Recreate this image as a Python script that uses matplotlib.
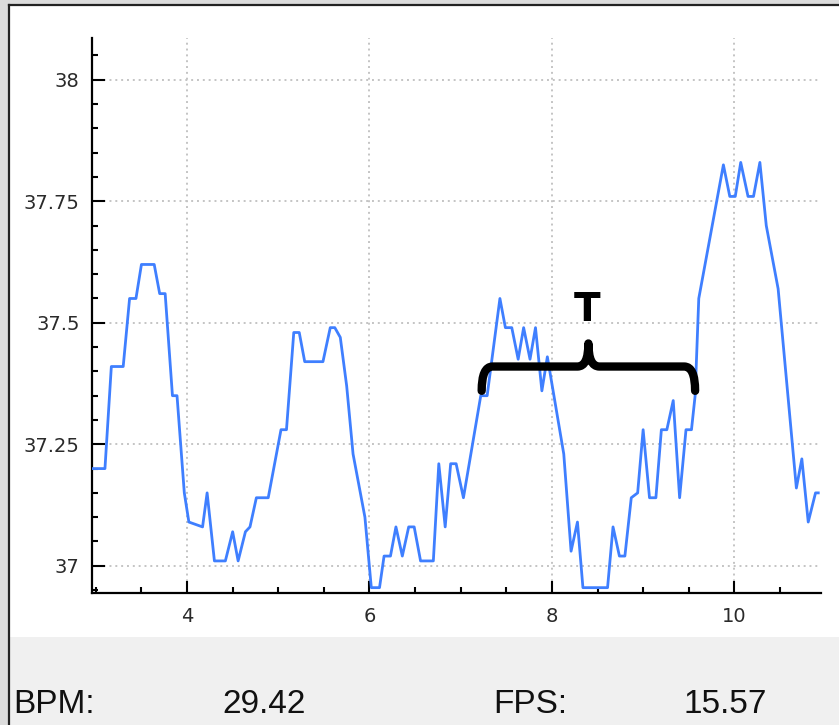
import matplotlib
matplotlib.use("Agg")
import matplotlib.pyplot as plt
from matplotlib.patches import Rectangle, PathPatch
from matplotlib.path import Path
from matplotlib.ticker import MultipleLocator, FuncFormatter

# signal samples (time in s, temperature)
t = [2.97, 3.10, 3.17, 3.30, 3.37, 3.44, 3.50, 3.64, 3.70, 3.76, 3.84, 3.89,
     3.97, 4.02, 4.17, 4.22, 4.30, 4.42, 4.50, 4.56, 4.64, 4.69, 4.76, 4.89,
     5.03, 5.09, 5.17, 5.23, 5.29, 5.49, 5.57, 5.62, 5.68, 5.75, 5.82, 5.95,
     6.02, 6.11, 6.16, 6.23, 6.29, 6.36, 6.43, 6.49, 6.56, 6.70, 6.76, 6.83,
     6.89, 6.95, 7.03, 7.22, 7.29, 7.43, 7.49, 7.56, 7.63, 7.69, 7.76, 7.82,
     7.89, 7.95, 8.13, 8.21, 8.28, 8.34, 8.46, 8.61, 8.67, 8.74, 8.80, 8.87,
     8.94, 9.00, 9.07, 9.14, 9.20, 9.26, 9.33, 9.40, 9.47, 9.53, 9.57, 9.61,
     9.88, 9.95, 10.01, 10.07, 10.15, 10.21, 10.28, 10.35, 10.48, 10.68,
     10.74, 10.81, 10.89, 10.92]
temp = [37.20, 37.20, 37.41, 37.41, 37.55, 37.55, 37.62, 37.62, 37.56, 37.56,
        37.35, 37.35, 37.15, 37.09, 37.08, 37.15, 37.01, 37.01, 37.07, 37.01,
        37.07, 37.08, 37.14, 37.14, 37.28, 37.28, 37.48, 37.48, 37.42, 37.42,
        37.49, 37.49, 37.47, 37.37, 37.23, 37.10, 36.955, 36.955, 37.02, 37.02,
        37.08, 37.02, 37.08, 37.08, 37.01, 37.01, 37.21, 37.08, 37.21, 37.21,
        37.14, 37.35, 37.35, 37.55, 37.49, 37.49, 37.425, 37.49, 37.425, 37.49,
        37.36, 37.43, 37.23, 37.03, 37.09, 36.955, 36.955, 36.955, 37.08, 37.02,
        37.02, 37.14, 37.15, 37.28, 37.14, 37.14, 37.28, 37.28, 37.34, 37.14,
        37.28, 37.28, 37.35, 37.55, 37.825, 37.76, 37.76, 37.83, 37.76, 37.76,
        37.83, 37.70, 37.57, 37.16, 37.22, 37.09, 37.15, 37.15]

bpm_text = "29.42"
fps_text = "15.57"

fig = plt.figure(figsize=(8.39, 7.25), dpi=100)
fig.patch.set_facecolor("white")

# window frame and bottom status panel
fig.patches.append(Rectangle((0, 0), 1, 1, transform=fig.transFigure,
                             facecolor="#dcdcdc", edgecolor="none", zorder=-3))
fig.patches.append(Rectangle((10 / 839, 0), 1, 719 / 725, transform=fig.transFigure,
                             facecolor="white", edgecolor="none", zorder=-2))
fig.patches.append(Rectangle((10 / 839, 0), 1, 88 / 725, transform=fig.transFigure,
                             facecolor="#f0f0f0", edgecolor="none", zorder=-1))
fig.add_artist(plt.Line2D([9 / 839, 9 / 839], [0, 720 / 725], color="#222222",
                          lw=1.6, transform=fig.transFigure))
fig.add_artist(plt.Line2D([9 / 839, 1], [720 / 725, 720 / 725], color="#222222",
                          lw=1.6, transform=fig.transFigure))

ax = fig.add_axes([92 / 839, 132 / 725, 729 / 839, 555 / 725])
ax.set_facecolor("none")
ax.plot(t, temp, color="#3f7fff", lw=2.0, zorder=3)

ax.set_xlim(2.958, 10.95)
ax.set_ylim(36.944, 38.086)
ax.xaxis.set_major_locator(MultipleLocator(2))
ax.xaxis.set_minor_locator(MultipleLocator(0.5))
ax.yaxis.set_major_locator(MultipleLocator(0.25))
ax.yaxis.set_minor_locator(MultipleLocator(0.05))
ax.yaxis.set_major_formatter(FuncFormatter(lambda v, p: f"{v:g}"))

for s in ["top", "right"]:
    ax.spines[s].set_visible(False)
for s in ["left", "bottom"]:
    ax.spines[s].set_linewidth(1.6)
    ax.spines[s].set_color("black")

ax.tick_params(which="major", direction="in", length=9, width=1.5,
               labelsize=14, labelcolor="#2a2a2a", color="black")
ax.tick_params(which="minor", direction="in", length=4.5, width=1.5, color="black")
ax.tick_params(axis="y", which="major", pad=9)
ax.tick_params(axis="x", which="major", pad=10)

ax.grid(True, which="major", color="#c4c4c4", lw=1.4, linestyle=(0, (1, 2)))

# curly brace marking one period T
x0, x1, yb = 7.23, 9.57, 37.41
xm = (x0 + x1) / 2
dy = 0.05
r = 0.12
verts = [(x0, yb - dy), (x0, yb), (x0 + r, yb),
         (xm - r, yb), (xm, yb), (xm, yb + dy * 0.95),
         (xm, yb), (xm + r, yb),
         (x1 - r, yb), (x1, yb), (x1, yb - dy)]
codes = [Path.MOVETO, Path.CURVE3, Path.CURVE3,
         Path.LINETO, Path.CURVE3, Path.CURVE3,
         Path.CURVE3, Path.CURVE3,
         Path.LINETO, Path.CURVE3, Path.CURVE3]
ax.add_patch(PathPatch(Path(verts, codes), facecolor="none", edgecolor="black",
                       lw=6.0, capstyle="round", joinstyle="round", zorder=4))
ax.text(xm - 0.01, 37.503, "T", ha="center", va="baseline",
        fontsize=28, fontweight="bold", color="black", zorder=5)

# status labels
fy = 12 / 725
fig.text(13 / 839, fy, "BPM:", fontsize=24, family="Liberation Sans", color="#111111")
fig.text(222 / 839, fy, bpm_text, fontsize=24, family="Liberation Sans", color="#111111")
fig.text(493 / 839, fy, "FPS:", fontsize=24, family="Liberation Sans", color="#111111")
fig.text(683 / 839, fy, fps_text, fontsize=24, family="Liberation Sans", color="#111111")

fig.savefig("out.png", dpi=100)
